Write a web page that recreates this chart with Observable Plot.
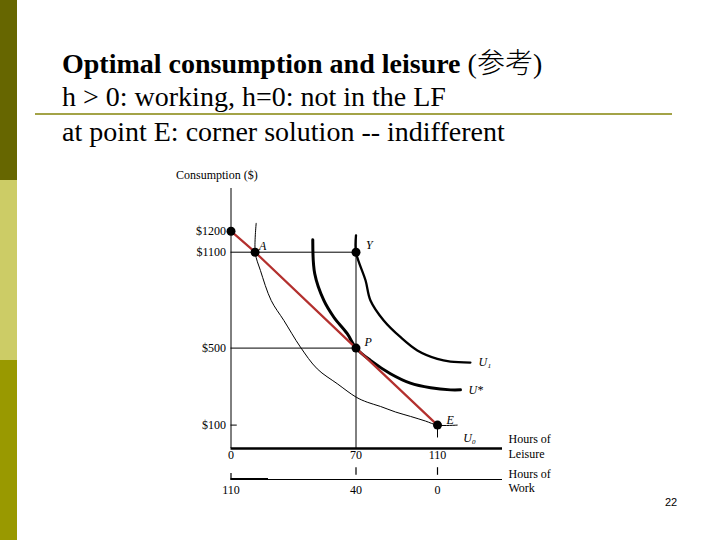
<!DOCTYPE html>
<html>
<head>
<meta charset="utf-8">
<script src="https://cdn.jsdelivr.net/npm/d3@7"></script>
<script src="https://cdn.jsdelivr.net/npm/@observablehq/plot@0.6"></script>
<style>
html,body{margin:0;padding:0;background:#fff;}
#page{position:relative;width:720px;height:540px;overflow:hidden;background:#fff;font-family:"Liberation Serif","Times New Roman","Noto Sans CJK SC",serif;color:#000;}
.bar{position:absolute;left:0;width:17px;}
.t{position:absolute;left:62px;font-size:28px;line-height:28px;white-space:nowrap;}
.cjk{font-family:"Noto Sans CJK SC";line-height:0;font-weight:300;}
#sep{position:absolute;left:35px;width:637px;top:113px;height:2px;background:#a3a347;}
#chart{position:absolute;left:0;top:160px;}
#pg{position:absolute;left:665px;top:497px;font-family:"Liberation Sans",Arial,sans-serif;font-size:11px;line-height:11px;}
</style>
</head>
<body>
<div id="page">
  <div class="bar" style="top:0;height:180px;background:#666600"></div>
  <div class="bar" style="top:180px;height:180px;background:#cccc66"></div>
  <div class="bar" style="top:360px;height:180px;background:#999900"></div>
  <div class="t" style="top:50px"><b>Optimal consumption and leisure</b> (<span class="cjk">参考</span>)</div>
  <div class="t" style="top:83px">h &gt; 0: working, h=0: not in the LF</div>
  <div id="sep"></div>
  <div class="t" style="top:118px">at point E: corner solution -- indifferent</div>
  <div id="chart"></div>
  <div id="pg">22</div>
</div>
<script>
// ---- data (leisure hours, consumption $) ----
const leisureTicks = [0, 70, 110];
const workTicks = [110, 40, 0];
const consumptionTicks = [100, 500, 1100, 1200];
const leisureMax = 142;
const consumptionMax = 1400;

const budgetLeisure = [0, 13.5, 70, 110];
const budgetCons = [1200, 1100, 500, 100];

const pointLeisure = [0, 13.5, 70, 70, 110];
const pointCons = [1200, 1100, 1100, 500, 100];
const pointNames = ["", "A", "Y", "P", "E"];

const u0Leisure = [14.1, 13.6, 16.5, 22.5, 29.6, 38.9, 48.3, 59.5, 70.1, 75.5, 82.0, 89.4, 96.8, 104.1, 110, 119.7];
const u0Cons    = [1237, 1095, 985, 798, 673, 506, 392, 315, 245, 219, 197, 168, 145, 121, 100, 100];

const uStarLeisure = [45.8, 46.9, 52.0, 57.6, 65.1, 70, 77.1, 86.9, 96.7, 106.6, 116.4, 121.3];
const uStarCons    = [1159, 965, 798, 693, 590, 500, 436, 367, 318, 294, 283, 283];

const u1Leisure = [70, 70, 74.7, 77.1, 83.6, 91.9, 100.1, 109.9, 116.4, 126.2];
const u1Cons    = [1180, 1100, 923, 798, 673, 568, 488, 444, 430, 425];

const guideTop = 1180;   // top of the vertical guide at 70 hours
const eDropBottom = 45;  // short drop below E

const zip = (xs, ys) => xs.map((x, i) => ({x, y: ys[i]}));
const budget = zip(budgetLeisure, budgetCons);
const points = pointLeisure.map((x, i) => ({x, y: pointCons[i], name: pointNames[i]}));
const u0 = zip(u0Leisure, u0Cons);
const uStar = zip(uStarLeisure, uStarCons);
const u1 = zip(u1Leisure, u1Cons);
const workTickData = leisureTicks.map((x, i) => ({x, label: String(workTicks[i])}));

const serif = "Liberation Serif, Times New Roman, serif";

const chart = Plot.plot({
  width: 720,
  height: 380,
  marginLeft: 230.5,
  marginRight: 218,
  marginTop: 28,
  marginBottom: 92,
  x: {type: "linear", domain: [0, 70, 110, leisureMax], range: [230.5, 355.5, 437, 502], axis: null},
  y: {type: "linear", domain: [0, 100, 500, 1100, 1200, consumptionMax], range: [288, 264.6, 187.6, 91.7, 70.7, 28], axis: null},
  style: {fontFamily: serif, fontSize: "12px", background: "transparent", overflow: "visible", color: "#000"},
  marks: [
    // axes lines
    Plot.ruleX([0], {y1: 0, y2: consumptionMax, stroke: "#000", strokeWidth: 1}),
    Plot.ruleY([0], {x1: 0, x2: leisureMax, stroke: "#000", strokeWidth: 2.5}),
    // guide lines
    Plot.ruleY([1100, 500], {x1: 0, x2: 70, stroke: "#000", strokeWidth: 1}),
    Plot.ruleX([70], {y1: 0, y2: guideTop, stroke: "#000", strokeWidth: 1}),
    Plot.ruleX([110], {y1: eDropBottom, y2: 100, stroke: "#000", strokeWidth: 1}),
    Plot.ruleY([100], {x1: 0, x2: 3.5, stroke: "#000", strokeWidth: 1}),
    // y axis tick labels
    Plot.axisY(consumptionTicks, {tickSize: 0, tickPadding: 5, tickFormat: d => "$" + d, fontSize: 12, label: null}),
    Plot.text(["Consumption ($)"], {x: () => 0, y: () => consumptionMax, text: d => d, textAnchor: "start", dx: -55, dy: -13, fontSize: 12}),
    // leisure axis labels
    Plot.axisX(leisureTicks, {tickSize: 0, tickPadding: 2, fontSize: 12, label: null}),
    Plot.text(["Hours of\nLeisure"], {x: () => leisureMax, y: () => 0, text: d => d, textAnchor: "start", dx: 6, dy: -2.5, lineHeight: 1.2, fontSize: 12}),
    // work axis
    Plot.ruleY([0], {x1: 0, x2: leisureMax, dy: 31, stroke: "#000", strokeWidth: 1}),
    Plot.ruleY([0], {x1: 0, x2: 21, dy: 30.5, stroke: "#000", strokeWidth: 2}),
    Plot.ruleX([0], {y1: 0, y2: 0, insetTop: -3, insetBottom: -3, dy: 28, stroke: "#000", strokeWidth: 1.2}),
    Plot.ruleX(leisureTicks.slice(1), {y1: 0, y2: 0, insetTop: -3.8, insetBottom: -3.8, dy: 23, stroke: "#000", strokeWidth: 1.2}),
    Plot.text(workTickData, {x: "x", y: () => 0, text: "label", dy: 42, fontSize: 12}),
    Plot.text(["Hours of\nWork"], {x: () => leisureMax, y: () => 0, text: d => d, textAnchor: "start", dx: 6, dy: 32, lineHeight: 1.12, fontSize: 12}),
    // indifference curves
    Plot.line(u0, {x: "x", y: "y", stroke: "#000", strokeWidth: 1, curve: "catmull-rom"}),
    Plot.line(uStar, {x: "x", y: "y", stroke: "#000", strokeWidth: 3, curve: "catmull-rom"}),
    Plot.line(u1, {x: "x", y: "y", stroke: "#000", strokeWidth: 2.3, curve: "catmull-rom"}),
    // budget line
    Plot.line(budget, {x: "x", y: "y", stroke: "#b3302e", strokeWidth: 2.2}),
    // points
    Plot.dot(points, {x: "x", y: "y", r: 4.5, fill: "#000", stroke: "none"}),
    Plot.text(points.filter(d => d.name === "A"), {x: "x", y: "y", text: "name", textAnchor: "start", dx: 4, dy: -6.5, fontStyle: "italic", fontSize: 12}),
    Plot.text(points.filter(d => d.name === "Y"), {x: "x", y: "y", text: "name", textAnchor: "start", dx: 10, dy: -7.5, fontStyle: "italic", fontSize: 12}),
    Plot.text(points.filter(d => d.name === "P"), {x: "x", y: "y", text: "name", textAnchor: "start", dx: 8.5, dy: -6, fontStyle: "italic", fontSize: 12}),
    Plot.text(points.filter(d => d.name === "E"), {x: "x", y: "y", text: "name", textAnchor: "start", dx: 9, dy: -4.5, fontStyle: "italic", fontSize: 12}),
    // curve labels
    Plot.text([u1[u1.length - 1]], {x: "x", y: "y", text: () => "U\u2081", textAnchor: "start", dx: 8, dy: 0, fontStyle: "italic", fontSize: 12}),
    Plot.text([uStar[uStar.length - 1]], {x: "x", y: "y", text: () => "U*", textAnchor: "start", dx: 8, dy: 0, fontStyle: "italic", fontSize: 12}),
    Plot.text([u0[u0.length - 1]], {x: "x", y: "y", text: () => "U\u2080", textAnchor: "start", dx: 6, dy: 13, fontStyle: "italic", fontSize: 12})
  ]
});
document.getElementById("chart").appendChild(chart);
</script>
</body>
</html>
